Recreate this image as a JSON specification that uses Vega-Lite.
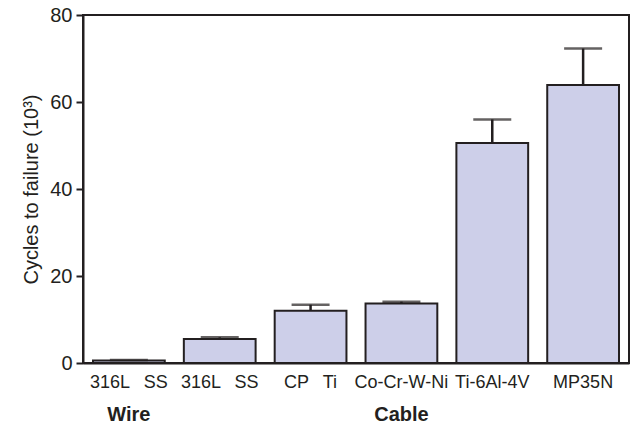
{
  "$schema": "https://vega.github.io/schema/vega-lite/v6.json",
  "width": 546,
  "height": 348,
  "autosize": "none",
  "padding": {"left": 83, "top": 15, "right": 2, "bottom": 61},
  "background": "white",
  "config": {
    "font": "Liberation Sans",
    "view": {"stroke": "#231f20", "strokeWidth": 2},
    "scale": {"bandPaddingInner": 0.21, "bandPaddingOuter": 0.11},
    "axis": {"domainColor": "#231f20", "domainWidth": 2, "tickColor": "#231f20", "labelColor": "#231f20", "titleColor": "#231f20", "grid": false},
    "axisY": {"titleFontSize": 20, "titleFontWeight": "normal", "titlePadding": 8, "labelFontSize": 20, "labelPadding": 4, "tickSize": 7, "tickWidth": 2}
  },
  "data": {
    "values": [
      {"key": "316L\u00a0\u00a0\u2009SS|Wire|1", "value": 0.6, "upper": 0.7},
      {"key": "316L\u00a0\u00a0\u2009SS||2", "value": 5.5, "upper": 5.9},
      {"key": "CP\u00a0\u00a0\u2009Ti||3", "value": 12.0, "upper": 13.4},
      {"key": "Co-Cr-W-Ni|Cable|4", "value": 13.7, "upper": 14.1},
      {"key": "Ti-6Al-4V||5", "value": 50.6, "upper": 56.0},
      {"key": "MP35N||6", "value": 63.9, "upper": 72.3}
    ]
  },
  "layer": [
    {
      "mark": {"type": "bar", "fill": "#cdcfe9", "stroke": "#231f20", "strokeWidth": 2},
      "encoding": {
        "x": {"field": "key", "type": "nominal", "sort": null,
          "axis": {"labelExpr": "split(datum.value,'|')[0]", "labelAngle": 0, "labelFontSize": 18, "ticks": false, "labelPadding": 10, "title": null}},
        "y": {"field": "value", "type": "quantitative", "scale": {"domain": [0, 80]}, "title": "Cycles to failure (10³)",
          "axis": {"values": [0, 20, 40, 60, 80]}}
      }
    },
    {
      "mark": {"type": "rule", "stroke": "#231f20", "strokeWidth": 2.5},
      "encoding": {
        "x": {"field": "key", "type": "nominal", "sort": null,
          "axis": {"orient": "bottom", "labelExpr": "split(datum.value,'|')[1]", "labelAngle": 0, "labelFontSize": 20, "labelFontWeight": "bold", "ticks": false, "domain": false, "labelPadding": 41, "title": null}},
        "y": {"field": "value", "type": "quantitative", "title": "Cycles to failure (10³)"},
        "y2": {"field": "upper"}
      }
    },
    {
      "mark": {"type": "tick", "color": "#231f20", "thickness": 2.5, "size": 38},
      "encoding": {
        "x": {"field": "key", "type": "nominal", "sort": null, "axis": null},
        "y": {"field": "upper", "type": "quantitative", "title": "Cycles to failure (10³)"}
      }
    }
  ],
  "resolve": {"scale": {"x": "independent"}, "axis": {"x": "independent"}}
}
